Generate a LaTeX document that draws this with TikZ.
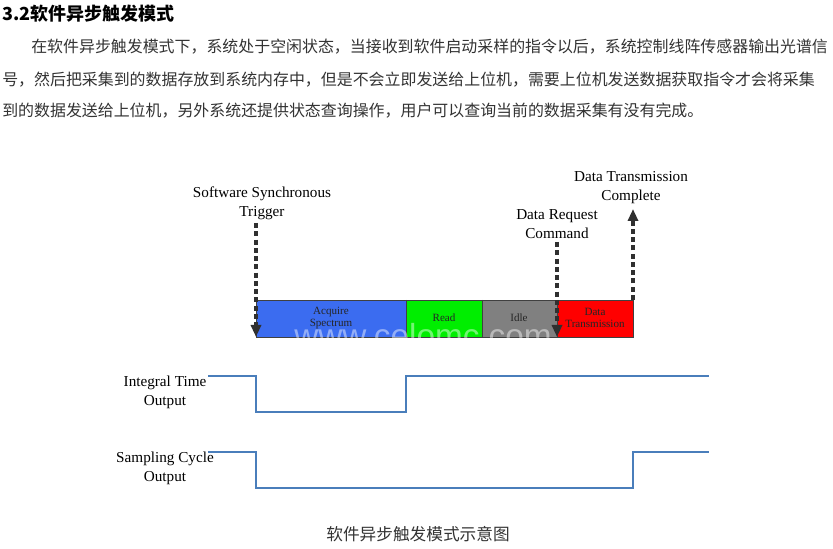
\documentclass[tikz,border=0pt]{standalone}
\usepackage{fontspec}
\setmainfont{Liberation Serif}
\newfontfamily\cjk{Noto Sans CJK SC}
\newfontfamily\wmfont{Liberation Sans}
\usetikzlibrary{arrows.meta}
\definecolor{txt}{HTML}{333333}
\definecolor{segblue}{HTML}{3B6CF0}
\definecolor{seggreen}{HTML}{00EE00}
\definecolor{seggray}{HTML}{808080}
\definecolor{segred}{HTML}{FF0000}
\definecolor{sig}{HTML}{4A7EBB}
\definecolor{arr}{HTML}{303030}
\tikzset{
  para/.style={anchor=west, inner sep=0pt, text=txt, font=\cjk\fontsize{11.95}{14}\selectfont},
  lbl/.style={align=center, inner sep=0pt, text=black, font=\fontsize{11.4}{14.25}\selectfont},
  segtxt/.style={align=center, inner sep=0pt, text=black!85, font=\fontsize{8.3}{9.5}\selectfont},
  trig/.style={draw=arr, line width=2.3pt, dash pattern=on 3.8pt off 2.4pt, -{Triangle[length=9pt,width=7.5pt]}},
  wave/.style={draw=sig, line width=1.5pt},
}
\begin{document}
\begin{tikzpicture}[x=0.75pt,y=-0.75pt]
\useasboundingbox[fill=white] (0,0) rectangle (833,549);
% heading and text
\node[anchor=west, inner sep=0pt, font=\cjk\bfseries\fontsize{13.5}{16}\selectfont] (head) at (2,14) {3.2软件异步触发模式};
\node[para] (p1) at (31,47) {在软件异步触发模式下，系统处于空闲状态，当接收到软件启动采样的指令以后，系统控制线阵传感器输出光谱信};
\node[para] (p2) at (2,80) {号，然后把采集到的数据存放到系统内存中，但是不会立即发送给上位机，需要上位机发送数据获取指令才会将采集};
\node[para] (p3) at (2,111) {到的数据发送给上位机，另外系统还提供状态查询操作，用户可以查询当前的数据采集有没有完成。};
% bar segments
\path[fill=segblue] (256,300) rectangle (406,337);
\path[fill=seggreen] (406,300) rectangle (482,337);
\path[fill=seggray] (482,300) rectangle (557,337);
\path[fill=segred] (557,300) rectangle (633,337);
\draw[black!75, line width=0.6pt] (256,300) rectangle (633,337);
\draw[black!75, line width=0.6pt] (406,300) -- (406,337) (482,300) -- (482,337) (557,300) -- (557,337);
% watermark
\node[text=white, opacity=0.45, inner sep=0pt, font=\wmfont\fontsize{25}{25}\selectfont] (wm) at (423,336) {www.celomc.com};
\node[segtxt] (acq) at (331,318) {Acquire\\Spectrum};
\node[segtxt] (read) at (444,318) {Read};
\node[segtxt] (idle) at (519,318) {Idle};
\node[segtxt] (dtx) at (595,318) {Data\\Transmission};
% labels
\node[lbl] (sst) at (262,203) {Software Synchronous\\Trigger};
\node[lbl] (drc) at (557,224) {Data Request\\Command};
\node[lbl] (dtc) at (631,188) {Data Transmission\\Complete};
\coordinate (t1a) at (256,223);
\coordinate (t1b) at (256,337);
\coordinate (t2a) at (557,242);
\coordinate (t2b) at (557,337);
\coordinate (t3a) at (633,300);
\coordinate (t3b) at (633,209);
\draw[trig] (t1a) -- (t1b);
\draw[trig] (t2a) -- (t2b);
\draw[trig] (t3a) -- (t3b);
% waveforms
\node[lbl] (itl) at (165,392) {Integral Time\\Output};
\node[lbl] (scl) at (165,468) {Sampling Cycle\\Output};
\coordinate (w1s) at (208,376);
\coordinate (w2s) at (208,452);
\draw[wave] (w1s) -- (256,376) -- (256,412) -- (406,412) -- (406,376) -- (709,376);
\draw[wave] (w2s) -- (256,452) -- (256,488) -- (633,488) -- (633,452) -- (709,452);
% caption
\node[inner sep=0pt, text=txt, font=\cjk\fontsize{12.5}{15}\selectfont] (cap) at (418,534) {软件异步触发模式示意图};
\end{tikzpicture}
\end{document}
